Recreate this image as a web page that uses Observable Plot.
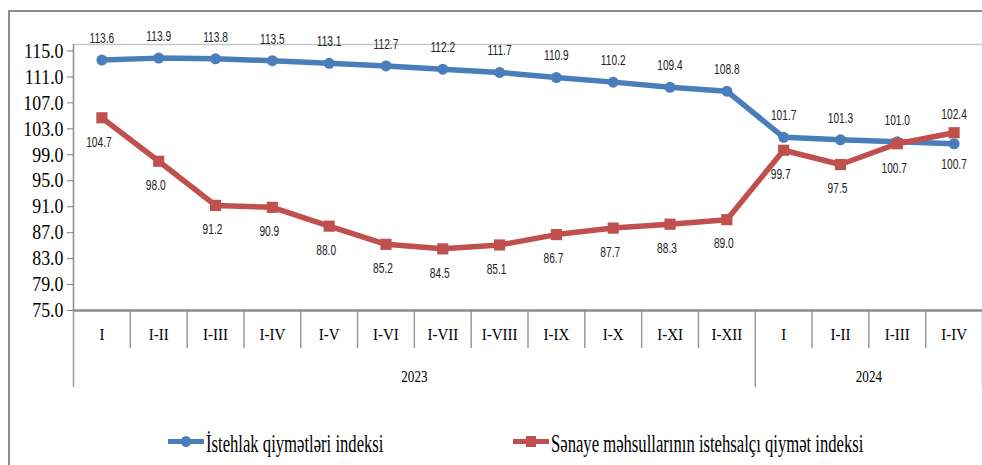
<!DOCTYPE html>
<html><head><meta charset="utf-8">
<script src="https://cdn.jsdelivr.net/npm/d3@7"></script>
<script src="https://cdn.jsdelivr.net/npm/@observablehq/plot@0.6"></script>
<style>
body{margin:0;background:#fff;}
#wrap{position:relative;width:982px;height:465px;overflow:hidden;background:#fff;}
#frame{position:absolute;left:8px;top:10px;width:990px;height:470px;border:2px solid #8c8c8c;box-sizing:border-box;}
#chart{position:absolute;left:0;top:0;}
#legend{position:absolute;top:431px;left:0;width:982px;height:26px;font-family:'Liberation Serif','Times New Roman',serif;font-size:26px;line-height:26px;color:#000;}
.item{position:absolute;top:0;height:26px;white-space:nowrap;}
.sw{position:absolute;left:0;top:0;width:36px;height:26px;}
.sw .ln{position:absolute;left:0;right:0;top:8px;height:5px;}
.sw .mk{position:absolute;left:13px;top:5px;width:10px;height:11px;}
.txt{position:absolute;left:38px;top:0;display:inline-block;transform-origin:0 50%;}
</style></head>
<body>
<div id="wrap">
  <div id="frame"></div>
  <div id="chart"></div>
  <div id="legend"></div>
</div>
<script>
// ---- data ----
const periods = ["I","I-II","I-III","I-IV","I-V","I-VI","I-VII","I-VIII","I-IX","I-X","I-XI","I-XII","I","I-II","I-III","I-IV"];
const years = ["2023","2024"];
const yearSpans = [12, 4];
const cpi = [113.6,113.9,113.8,113.5,113.1,112.7,112.2,111.7,110.9,110.2,109.4,108.8,101.7,101.3,101.0,100.7];
const ppi = [104.7,98.0,91.2,90.9,88.0,85.2,84.5,85.1,86.7,87.7,88.3,89.0,99.7,97.5,100.7,102.4];
const seriesNames = ["İstehlak qiymətləri indeksi","Sənaye məhsullarının istehsalçı qiymət indeksi"];
const yTicks = [75,79,83,87,91,95,99,103,107,111,115];
const yDomain = [75, 116];

// ---- styles ----
const blue = "#4a7ebb", red = "#c0504d";
const labelFont = "'Liberation Sans',Arial,sans-serif";
const serif = "'Liberation Serif','Times New Roman',serif";

const n = periods.length;
const rows = periods.map((p, i) => ({i, period: p, cpi: cpi[i], ppi: ppi[i]}));
const yearBounds = [0];
yearSpans.forEach(s => yearBounds.push(yearBounds[yearBounds.length - 1] + s));
const yearCenters = years.map((y, k) => (yearBounds[k] + yearBounds[k + 1]) / 2);
const monthBounds = d3.range(0, n + 1).filter(b => !yearBounds.includes(b));
const centers = rows.map(d => d.i + 0.5);
const fmt = d3.format(".1f");
const X = d => d.i + 0.5;
const lbl = {fontSize: 15, fontFamily: labelFont, fill: "#222"};

const chart = Plot.plot({
  width: 982, height: 400,
  marginLeft: 73, marginRight: 0, marginTop: 44, marginBottom: 90,
  x: {domain: [0, n], axis: null},
  y: {domain: yDomain, axis: null},
  style: {background: "transparent", overflow: "visible"},
  marks: [
    Plot.ruleY([yDomain[1]], {stroke: "#c8c8c8", strokeWidth: 1.5}),
    Plot.axisY({ticks: yTicks, tickFormat: fmt, tickSize: 6, tickPadding: 4, fontSize: 21, fontFamily: serif, stroke: "#7f7f7f", color: "#000", label: null}),
    Plot.ruleX([0], {stroke: "#8c8c8c", strokeWidth: 1.5}),
    Plot.axisX({ticks: monthBounds, tickSize: 38, tickFormat: () => "", stroke: "#9a9a9a", strokeWidth: 1.5, label: null}),
    Plot.axisX({ticks: yearBounds, tickSize: 77, tickFormat: () => "", stroke: "#9a9a9a", strokeWidth: 1.5, label: null}),
    Plot.axisX({ticks: centers, tickSize: 0, tickPadding: 17, tickFormat: d => periods[Math.floor(d)], fontSize: 17, fontFamily: serif, color: "#000", label: null}),
    Plot.axisX({ticks: yearCenters, tickSize: 0, tickPadding: 60, tickFormat: d => years[yearCenters.indexOf(d)], fontSize: 16, fontFamily: serif, color: "#000", label: null}),
    Plot.ruleY([yDomain[0]], {stroke: "#8c8c8c", strokeWidth: 2.5}),
    Plot.line(rows, {x: X, y: "cpi", stroke: blue, strokeWidth: 5.5}),
    Plot.dot(rows, {x: X, y: "cpi", r: 5.5, fill: blue}),
    Plot.line(rows, {x: X, y: "ppi", stroke: red, strokeWidth: 5.5}),
    Plot.dot(rows, {x: X, y: "ppi", r: 6.3, symbol: "square", fill: red}),
    Plot.text(rows.filter(d => d.cpi >= d.ppi), {x: X, y: "cpi", text: d => fmt(d.cpi), dy: -22, ...lbl}),
    Plot.text(rows.filter(d => d.cpi < d.ppi), {x: X, y: "cpi", text: d => fmt(d.cpi), dy: 20, ...lbl}),
    Plot.text(rows.filter(d => d.cpi >= d.ppi), {x: X, y: "ppi", text: d => fmt(d.ppi), dy: 24, dx: -3, ...lbl}),
    Plot.text(rows.filter(d => d.cpi < d.ppi), {x: X, y: "ppi", text: d => fmt(d.ppi), dy: -19, ...lbl})
  ]
});

// horizontally condense text, like the reference's narrow lettering
function condense(sel, s) {
  sel.each(function() {
    const t = this.getAttribute("transform");
    if (t) this.setAttribute("transform", t + ` scale(${s},1)`);
    else {
      const x = +this.getAttribute("x") || 0, y = +this.getAttribute("y") || 0;
      this.removeAttribute("x"); this.removeAttribute("y");
      this.setAttribute("transform", `translate(${x},${y}) scale(${s},1)`);
    }
  });
}
const svg = d3.select(chart);
condense(svg.selectAll('g[aria-label="text"] text'), 0.68);
condense(svg.selectAll('g[aria-label="y-axis tick label"] text'), 0.85);
condense(svg.selectAll('g[aria-label="x-axis tick label"] text').filter(function() { return years.includes(this.textContent); }), 0.82);
condense(svg.selectAll('g[aria-label="x-axis tick label"] text').filter(function() { return periods.includes(this.textContent); }), 0.88);
document.getElementById("chart").appendChild(chart);

// ---- legend ----
const legend = document.getElementById("legend");
const items = [
  {name: seriesNames[0], color: blue, left: 168, round: true},
  {name: seriesNames[1], color: red, left: 513, round: false}
];
items.forEach(it => {
  const el = document.createElement("div");
  el.className = "item";
  el.style.left = it.left + "px";
  el.innerHTML = `<div class="sw"><div class="ln" style="background:${it.color}"></div><div class="mk" style="background:${it.color};border-radius:${it.round ? "50%" : "0"}"></div></div><span class="txt" style="transform:scaleX(0.64)">${it.name}</span>`;
  legend.appendChild(el);
});
</script>
</body></html>
